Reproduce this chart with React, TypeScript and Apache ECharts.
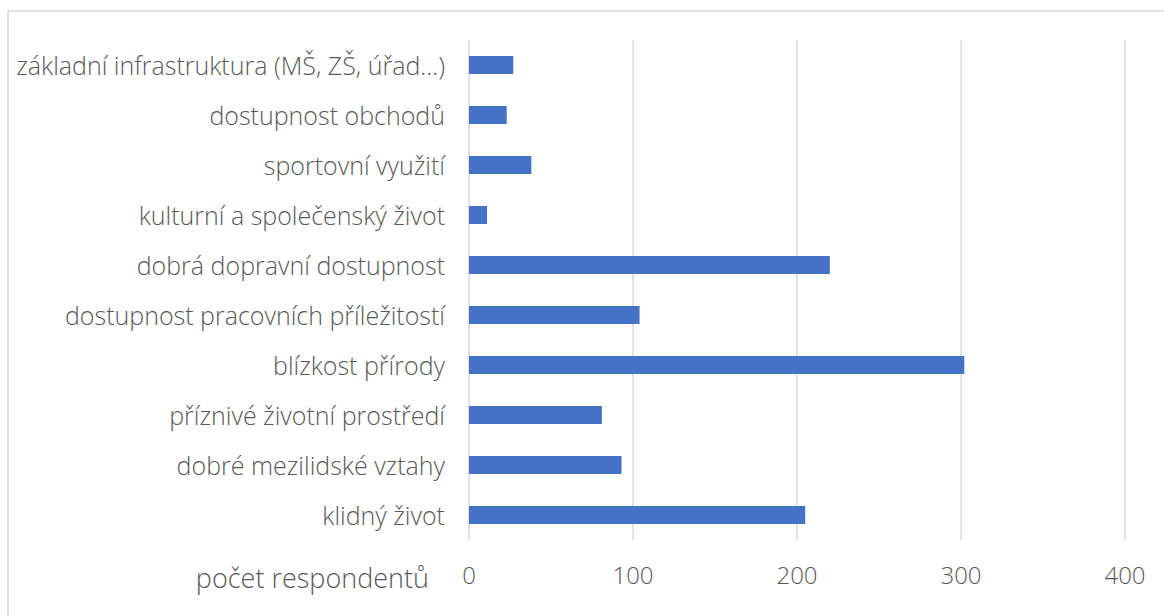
import React, { useEffect, useRef } from "react";
import * as echarts from "echarts";

const categories = [
  "klidný život",
  "dobré mezilidské vztahy",
  "příznivé životní prostředí",
  "blízkost přírody",
  "dostupnost pracovních příležitostí",
  "dobrá dopravní dostupnost",
  "kulturní a společenský život",
  "sportovní využití",
  "dostupnost obchodů",
  "základní infrastruktura (MŠ, ZŠ, úřad…)",
];
const values = [205, 93, 81, 302, 104, 220, 11, 38, 23, 27];
const axisName = "počet respondentů";

const FONT = "'Open Sans', 'Noto Sans', sans-serif";

export default function App() {
  const ref = useRef<HTMLDivElement>(null);
  useEffect(() => {
    if (!ref.current) return;
    const chart = echarts.init(ref.current, undefined, { renderer: "svg" });
    chart.setOption({
      animation: false,
      backgroundColor: "#ffffff",
      grid: { left: 469, right: 39, top: 40, bottom: 76, containLabel: false },
      xAxis: {
        type: "value",
        min: 0,
        max: 400,
        interval: 100,
        axisLine: { show: false },
        axisTick: { show: false },
        splitLine: { show: true, lineStyle: { color: "#d9d9d9", width: 1.5 } },
        axisLabel: {
          color: "#595959",
          fontSize: 24,
          fontFamily: FONT,
          fontWeight: 300,
          margin: 22,
        },
      },
      yAxis: {
        type: "category",
        data: categories,
        axisLine: { show: false },
        axisTick: { show: false },
        splitLine: { show: false },
        axisLabel: {
          color: "#595959",
          fontSize: 25,
          fontFamily: FONT,
          fontWeight: 300,
          margin: 24,
        },
      },
      series: [
        {
          type: "bar",
          data: values,
          barWidth: 18,
          itemStyle: { color: "#4472c4" },
        },
      ],
      graphic: [
        {
          type: "rect",
          silent: true,
          shape: { x: 8, y: 11, width: 1170, height: 620 },
          style: { fill: "none", stroke: "#d9d9d9", lineWidth: 1.5 },
        },
        {
          type: "text",
          x: 429,
          y: 577,
          style: {
            text: axisName,
            align: "right",
            verticalAlign: "middle",
            fill: "#595959",
            fontSize: 27,
            fontFamily: FONT,
            fontWeight: 300,
          },
        },
      ],
    });
    return () => chart.dispose();
  }, []);
  return (
    <div
      ref={ref}
      style={{ position: "absolute", left: 0, top: 0, width: 1164, height: 616 }}
    />
  );
}
